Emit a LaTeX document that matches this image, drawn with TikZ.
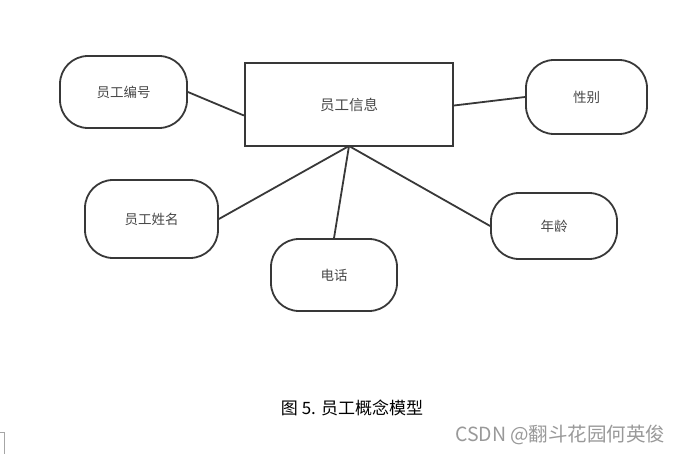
\documentclass[tikz,border=0pt]{standalone}
\usepackage{fontspec}
\setmainfont{Liberation Sans}
\newfontfamily\cjk{Noto Sans CJK SC}
\begin{document}
\begin{tikzpicture}[x=1pt,y=-1pt,
  attr/.style={draw=black!78,line width=1.8pt,rounded corners=28pt,minimum width=#1,inner sep=0pt,font=\cjk\fontsize{13.5}{15}\selectfont,text=black!72},
  ent/.style={draw=black!78,line width=2.2pt,inner sep=0pt,font=\cjk\fontsize{14.5}{16}\selectfont,text=black!72},
  link/.style={draw=black!78,line width=1.8pt}]
\useasboundingbox (0,0) rectangle (684,454);
\node[ent,minimum width=208pt,minimum height=83pt] (info) at (349,104.5) {员工信息};
\node[attr=127pt,minimum height=72pt] (bianhao) at (123.5,92) {员工编号};
\node[attr=121pt,minimum height=74pt] (xingbie) at (586.5,97) {性别};
\node[attr=133pt,minimum height=78pt] (xingming) at (151.5,219) {员工姓名};
\node[attr=126pt,minimum height=72pt] (dianhua) at (334,275) {电话};
\node[attr=126pt,minimum height=66pt] (nianling) at (554,226) {年龄};
\coordinate (hub) at (349,146);
\draw[link] (bianhao.east) -- ([yshift=-11pt]info.west);
\draw[link] ([yshift=-1pt]info.east) -- (xingbie.west);
\draw[link] (hub) -- (xingming.east);
\draw[link] (hub) -- (dianhua.north);
\draw[link] (hub) -- (nianling.west);
\node[font=\cjk\fontsize{17}{19}\selectfont,text=black] (cap) at (352,408) {图 5. 员工概念模型};
\node[font=\cjk\fontsize{19.5}{21}\selectfont,text=black!40,anchor=east] (wm) at (669,435) {CSDN @翻斗花园何英俊};
\draw[black!35,line width=0.8pt] (0,432.5) -- (4.5,432.5) -- (4.5,454);
\end{tikzpicture}
\end{document}
